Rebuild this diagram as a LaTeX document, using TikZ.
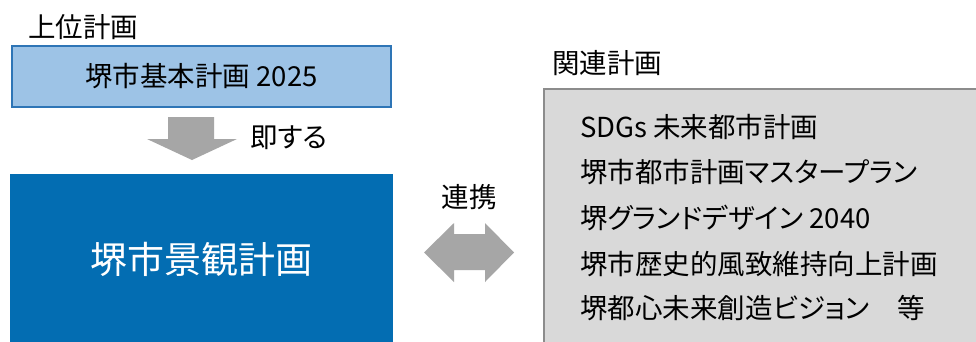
\documentclass[tikz,border=0pt]{standalone}
\usepackage{fontspec}
\setmainfont{Noto Sans CJK JP}[RawFeature=+palt]
\definecolor{lightblue}{HTML}{9DC3E6}
\definecolor{blueborder}{HTML}{2E75B6}
\definecolor{darkblue}{RGB}{3,109,178}
\definecolor{arrowgray}{HTML}{A6A6A6}
\definecolor{boxgray}{HTML}{D9D9D9}
\definecolor{boxborder}{HTML}{8C8C8C}
\begin{document}
\begin{tikzpicture}[x=1pt,y=-1pt,
  txt/.style={inner sep=0pt, font=\fontsize{27.5}{30}\selectfont, text height=22pt, text depth=2pt},
  bigtxt/.style={inner sep=0pt, font=\fontsize{37}{40}\selectfont, text height=30pt, text depth=2pt},
  blockarrow/.style={fill=arrowgray, draw=none}]
\useasboundingbox[fill=white] (0,0) rectangle (976,341);
% top-level plan
\node[txt, anchor=west] (uplabel) at (28,27) {上位計画};
\node[txt, draw=blueborder, fill=lightblue, line width=2pt, minimum width=379pt, minimum height=61pt] (base) at (201.5,76.5) {堺市基本計画 2025};
% down arrow
\fill[blockarrow] (168,117) -- (214,117) -- (214,139) -- (237,139) -- (192,160) -- (147,139) -- (168,139) -- cycle;
\node[txt, anchor=west] (sokusuru) at (250,137) {即する};
% main plan
\node[bigtxt, text=white, fill=darkblue, minimum width=383pt, minimum height=171pt] (main) at (201.5,259.5) {堺市景観計画};
% link arrow
\node[txt] (renkei) at (469,197) {連携};
\fill[blockarrow] (424,252.5) -- (454,223) -- (454,234) -- (485,234) -- (485,223) -- (514,252.5) -- (485,282) -- (485,270) -- (454,270) -- (454,282) -- cycle;
% related plans
\node[txt, anchor=west] (rellabel) at (552,63) {関連計画};
\node[draw=boxborder, fill=boxgray, line width=2pt, minimum width=441pt, minimum height=261pt, inner sep=0pt] (relbox) at (764.5,219.5) {};
\node[txt, anchor=west] (r1) at (580,127) {SDGs 未来都市計画};
\node[txt, anchor=west] (r2) at (580,172) {堺市都市計画マスタープラン};
\node[txt, anchor=west] (r3) at (580,218) {堺グランドデザイン 2040};
\node[txt, anchor=west] (r4) at (580,264) {堺市歴史的風致維持向上計画};
\node[txt, anchor=west] (r5) at (580,308) {堺都心未来創造ビジョン　等};
\end{tikzpicture}
\end{document}
